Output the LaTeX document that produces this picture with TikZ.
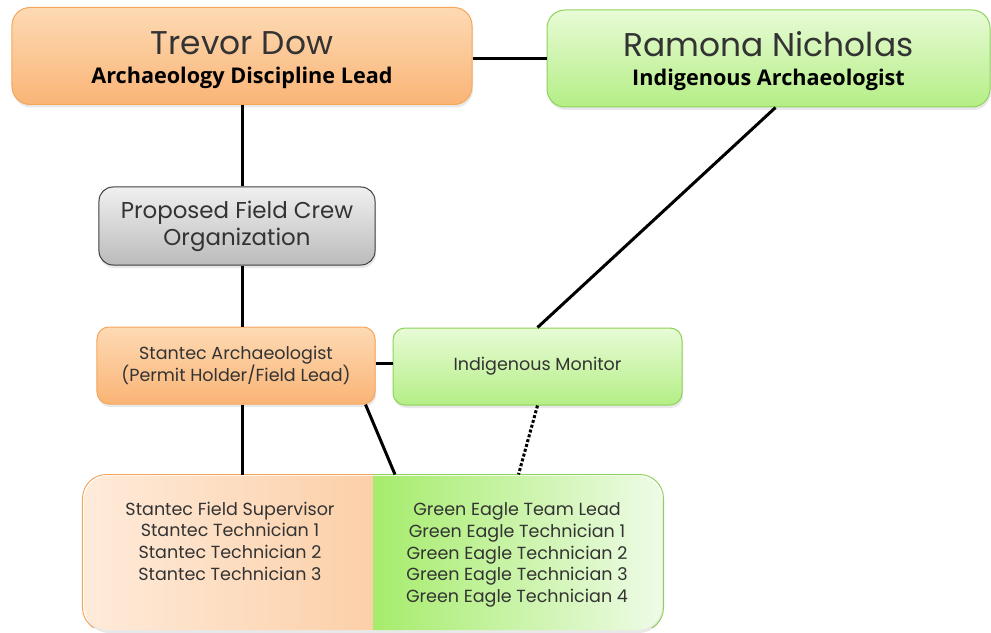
\documentclass[tikz,border=0pt]{standalone}
\usepackage{fontspec}
\setmainfont{Poppins}
\newfontfamily\titlefont{Open Sans}
\newcommand\rolefont{\titlefont\bfseries\fontsize{21.7}{24}\selectfont\color{black}}
\usetikzlibrary{positioning,shadows}

\definecolor{orangetop}{HTML}{FDDAB4}
\definecolor{orangebot}{HTML}{FAB476}
\definecolor{orangeedge}{HTML}{F5A65B}
\definecolor{orangepale}{HTML}{FEEBDA}
\definecolor{greentop}{HTML}{E8FBD6}
\definecolor{greenbot}{HTML}{B4EE85}
\definecolor{greenedge}{HTML}{8ED35A}
\definecolor{greenpale}{HTML}{EEFBE6}
\definecolor{greenvivid}{HTML}{A6EC6C}
\definecolor{graytop}{HTML}{F0F0F0}
\definecolor{graybot}{HTML}{BBBBBB}
\definecolor{grayedge}{HTML}{3F3F3F}
\definecolor{inktext}{HTML}{333333}

\begin{document}
\begin{tikzpicture}[x=1bp,y=-1bp,line width=3bp,
    box/.style={rectangle,align=center,text=inktext,inner sep=0pt,
                drop shadow={opacity=0.18,shadow xshift=1bp,shadow yshift=-3bp}},
    orangebox/.style={box,draw=orangeedge,line width=1bp,top color=orangetop,bottom color=orangebot},
    greenbox/.style={box,draw=greenedge,line width=1bp,top color=greentop,bottom color=greenbot},
    graybox/.style={box,draw=grayedge,line width=1bp,top color=graytop,bottom color=graybot},
    bigname/.style={font=\fontsize{33}{29}\selectfont},
    small/.style={font=\fontsize{17.6}{21.8}\selectfont}]

                \useasboundingbox (0,0) rectangle (991,633);

                \node[orangebox,rounded corners=18bp,minimum width=460bp,minimum height=97bp,bigname] (trevor) at (242,56)
                     {\rule{0pt}{32bp}Trevor Dow\\{\rolefont Archaeology Discipline Lead}};

                \node[greenbox,rounded corners=18bp,minimum width=443bp,minimum height=97bp,bigname] (ramona) at (768.5,58.5)
                     {\rule{0pt}{30bp}Ramona Nicholas\\{\rolefont Indigenous Archaeologist}};

                \node[graybox,rounded corners=14bp,minimum width=276bp,minimum height=78bp,
                      font=\fontsize{23}{27}\selectfont] (crew) at (237,226)
                     {Proposed Field Crew\\Organization};

                \node[orangebox,rounded corners=12bp,minimum width=278bp,minimum height=77bp,small] (stantec) at (236,365.5)
                     {Stantec Archaeologist\\(Permit Holder/Field Lead)};

                \node[greenbox,rounded corners=12bp,minimum width=289bp,minimum height=77bp,small] (monitor) at (537.5,366.5)
                     {Indigenous Monitor};

                % split crew box
                \node[box,rounded corners=24bp,minimum width=578bp,minimum height=154bp,
                      path picture={
                        \shade[sharp corners,left color=orangepale,right color=orangebot]
                          (path picture bounding box.north west) rectangle (path picture bounding box.south);
                        \shade[sharp corners,left color=greenvivid,right color=greenpale]
                          (path picture bounding box.north) rectangle (path picture bounding box.south east);
                      }] (team) at (373,553) {};
                \begin{scope}
                  \clip (team.north west) ++(-4,-4) rectangle ([yshift=4bp]team.south);
                  \draw[orangeedge,line width=1bp,rounded corners=24bp] (team.north west) rectangle (team.south east);
                \end{scope}
                \begin{scope}
                  \clip (team.north) ++(0,-4) rectangle ([xshift=4bp,yshift=4bp]team.south east);
                  \draw[greenedge,line width=1bp,rounded corners=24bp] (team.north west) rectangle (team.south east);
                \end{scope}

                \node[small,text=inktext,align=center,anchor=north] (stantecteam) at (230,497)
                     {Stantec Field Supervisor\\Stantec Technician 1\\Stantec Technician 2\\Stantec Technician 3};
                \node[small,text=inktext,align=center,anchor=north] (eagleteam) at (517,498)
                     {Green Eagle Team Lead\\Green Eagle Technician 1\\Green Eagle Technician 2\\Green Eagle Technician 3\\Green Eagle Technician 4};

                \coordinate (stantecfoot) at ([xshift=-10bp]stantec.south east);
                \coordinate (eaglehead) at ([xshift=22bp]team.north);
                \coordinate (monitorhead) at ([xshift=-19bp]team.north -| monitor.south);

                \draw (trevor.east |- ramona.west) -- (ramona.west);
                \draw (trevor.south) -- (trevor.south |- crew.north);
                \draw (crew.south -| trevor.south) -- (stantec.north -| trevor.south);
                \draw ([xshift=7bp]ramona.south) -- (monitor.north);
                \draw ([yshift=2bp]stantec.east) -- ([yshift=2bp]stantec.east -| monitor.west);
                \draw (stantec.south -| trevor.south) -- (team.north -| trevor.south);
                \draw (stantecfoot) -- (eaglehead);
                \draw[dotted] (monitor.south) -- (monitorhead);

            \end{tikzpicture}
\end{document}
